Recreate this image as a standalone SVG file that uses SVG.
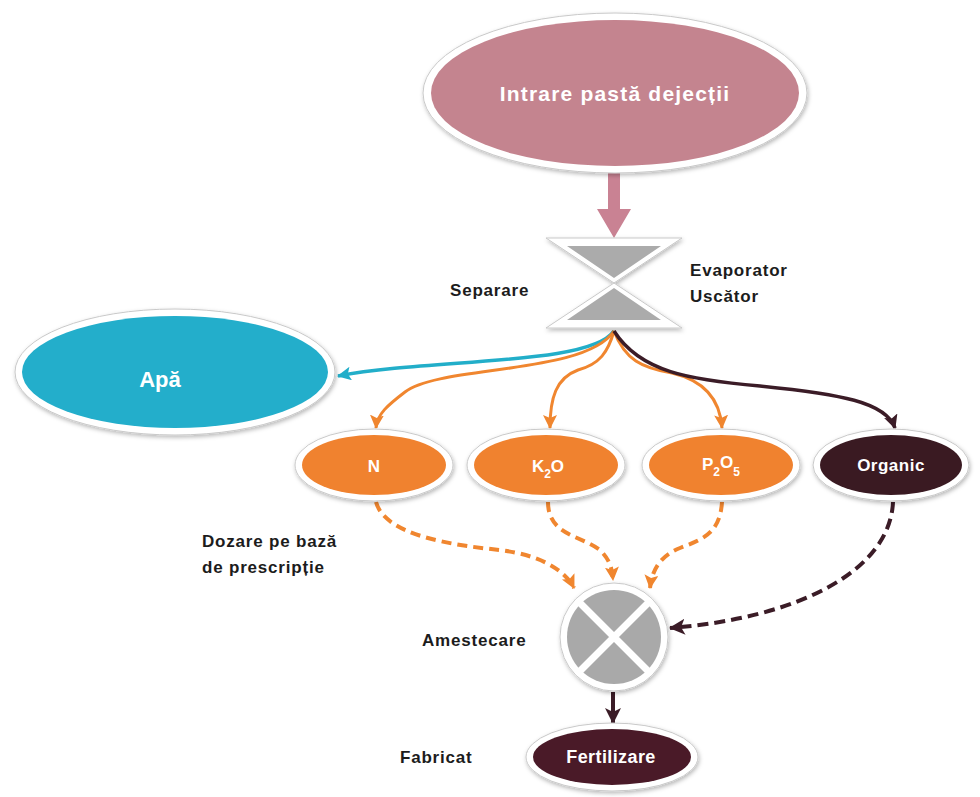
<svg xmlns="http://www.w3.org/2000/svg" width="980" height="797" viewBox="0 0 980 797">
<defs>
<filter id="sh" x="-20%" y="-20%" width="140%" height="150%">
<feDropShadow dx="1" dy="2" stdDeviation="2" flood-color="#000" flood-opacity="0.28"/>
</filter>
<marker id="aO" markerUnits="userSpaceOnUse" markerWidth="16" markerHeight="16" refX="13" refY="7" orient="auto"><path d="M0,0 L14,7 L0,14 L3,7 z" fill="#F0862F"/></marker>
<marker id="aC" markerUnits="userSpaceOnUse" markerWidth="16" markerHeight="16" refX="13" refY="7" orient="auto"><path d="M0,0 L14,7 L0,14 L3,7 z" fill="#22AEC9"/></marker>
<marker id="aD" markerUnits="userSpaceOnUse" markerWidth="16" markerHeight="16" refX="13" refY="7" orient="auto"><path d="M0,0 L14,7 L0,14 L3,7 z" fill="#3B1C27"/></marker>
<marker id="aD2" markerUnits="userSpaceOnUse" markerWidth="18" markerHeight="18" refX="15" refY="8" orient="auto"><path d="M0,0 L16,8 L0,16 L4,8 z" fill="#3B1C27"/></marker>
</defs>
<style>
.rim{fill:#fff;stroke:#c9c9c9;stroke-width:1;filter:url(#sh)}
.lbl{font-family:"Liberation Sans",Arial,sans-serif;font-weight:bold;font-size:17px;fill:#1c1c1c;letter-spacing:0.8px}
.nt{font-family:"Liberation Sans",Arial,sans-serif;font-weight:bold;font-size:17px;fill:#fff;text-anchor:middle}
.sub{font-size:12px}
.solidO{fill:none;stroke:#F0862F;stroke-width:3}
.dashO{fill:none;stroke:#F0862F;stroke-width:4;stroke-dasharray:10 6}
.dashD{fill:none;stroke:#3B1C27;stroke-width:4;stroke-dasharray:11 6}
</style>
<rect width="980" height="797" fill="#fff"/>

<g id="connectors">
<path d="M608,172 H620 V209 H631 L614,238 L597,209 H608 Z" fill="#C98293"/>
<path d="M614,331 C590,366 430,358 338,376" fill="none" stroke="#22AEC9" stroke-width="3.5" marker-end="url(#aC)"/>
<path d="M614,331 C585,375 440,365 405,392 C388,405 377,414 376,428" class="solidO" marker-end="url(#aO)"/>
<path d="M614,331 C608,352 600,364 578,370 C556,378 550,398 550,428" class="solidO" marker-end="url(#aO)"/>
<path d="M614,331 C625,360 642,368 672,373 C702,380 720,398 722,428" class="solidO" marker-end="url(#aO)"/>
<path d="M614,331 C640,372 690,380 760,386 C840,394 886,402 895,428" fill="none" stroke="#3B1C27" stroke-width="3.5" marker-end="url(#aD)"/>
<path d="M376,502 C385,535 450,545 500,550 C540,555 565,570 574,588" class="dashO" marker-end="url(#aO)"/>
<path d="M548,502 C548,535 580,535 600,550 C610,560 612,568 613,580" class="dashO" marker-end="url(#aO)"/>
<path d="M722,502 C720,535 700,540 680,548 C660,556 652,570 650,588" class="dashO" marker-end="url(#aO)"/>
<path d="M893,502 C890,570 800,618 670,628" class="dashD" marker-end="url(#aD2)"/>
<path d="M613,692 V723" fill="none" stroke="#3B1C27" stroke-width="4" marker-end="url(#aD2)"/>
</g>

<g id="intrare">
<ellipse class="rim" cx="615" cy="93" rx="192" ry="80"/>
<ellipse cx="615" cy="93" rx="184" ry="73" fill="#C4848F"/>
<text class="nt" x="615" y="101" style="font-size:21px;letter-spacing:1.2px">Intrare pastă dejecții</text>
</g>

<g id="separare">
<path d="M546,238 L682,238 L614,283 Z M546,328 L682,328 L614,283 Z" fill="#fff" stroke="#c9c9c9" stroke-width="1" filter="url(#sh)"/>
<path d="M567,246 L661,246 L614,278 Z M567,320 L661,320 L614,288 Z" fill="#ABABAB"/>
</g>

<g id="apa">
<ellipse class="rim" cx="175" cy="372" rx="160" ry="63"/>
<ellipse cx="175" cy="372" rx="153" ry="56" fill="#23AECB"/>
<text class="nt" x="160" y="387" style="font-size:22px">Apă</text>
</g>

<g id="n">
<ellipse class="rim" cx="374" cy="465" rx="79" ry="36"/>
<ellipse cx="374" cy="465" rx="72" ry="30" fill="#F0822F"/>
<text class="nt" x="374" y="472">N</text>
</g>

<g id="k2o">
<ellipse class="rim" cx="546" cy="465" rx="79" ry="36"/>
<ellipse cx="546" cy="465" rx="72" ry="30" fill="#F0822F"/>
<text class="nt" x="548" y="472">K<tspan class="sub" dy="6">2</tspan><tspan dy="-6">O</tspan></text>
</g>

<g id="p2o5">
<ellipse class="rim" cx="721" cy="465" rx="79" ry="36"/>
<ellipse cx="721" cy="465" rx="72" ry="30" fill="#F0822F"/>
<text class="nt" x="721" y="470">P<tspan class="sub" dy="6">2</tspan><tspan dy="-8">O</tspan><tspan class="sub" dy="8">5</tspan></text>
</g>

<g id="organic">
<ellipse class="rim" cx="891" cy="465" rx="78" ry="36"/>
<ellipse cx="891" cy="465" rx="71" ry="30" fill="#3A1A22"/>
<text class="nt" x="891" y="471" style="letter-spacing:0.5px">Organic</text>
</g>

<g id="amestecare">
<circle cx="614" cy="637" r="54" fill="#fff" stroke="#c9c9c9" stroke-width="1" filter="url(#sh)"/>
<circle cx="614" cy="637" r="47" fill="#A9A9A9"/>
<path d="M580,603 L648,671 M648,603 L580,671" stroke="#fff" stroke-width="7"/>
</g>

<g id="fertilizare">
<ellipse class="rim" cx="612" cy="757" rx="86" ry="34"/>
<ellipse cx="612" cy="757" rx="79" ry="28" fill="#4A1A28"/>
<text class="nt" x="611" y="763" style="font-size:18px;letter-spacing:0.4px">Fertilizare</text>
</g>

<g id="labels">
<text class="lbl" x="450" y="296">Separare</text>
<text class="lbl" x="690" y="276">Evaporator</text>
<text class="lbl" x="690" y="302">Uscător</text>
<text class="lbl" x="202" y="547">Dozare pe bază</text>
<text class="lbl" x="202" y="573">de prescripție</text>
<text class="lbl" x="422" y="646">Amestecare</text>
<text class="lbl" x="400" y="763">Fabricat</text>
</g>
</svg>
